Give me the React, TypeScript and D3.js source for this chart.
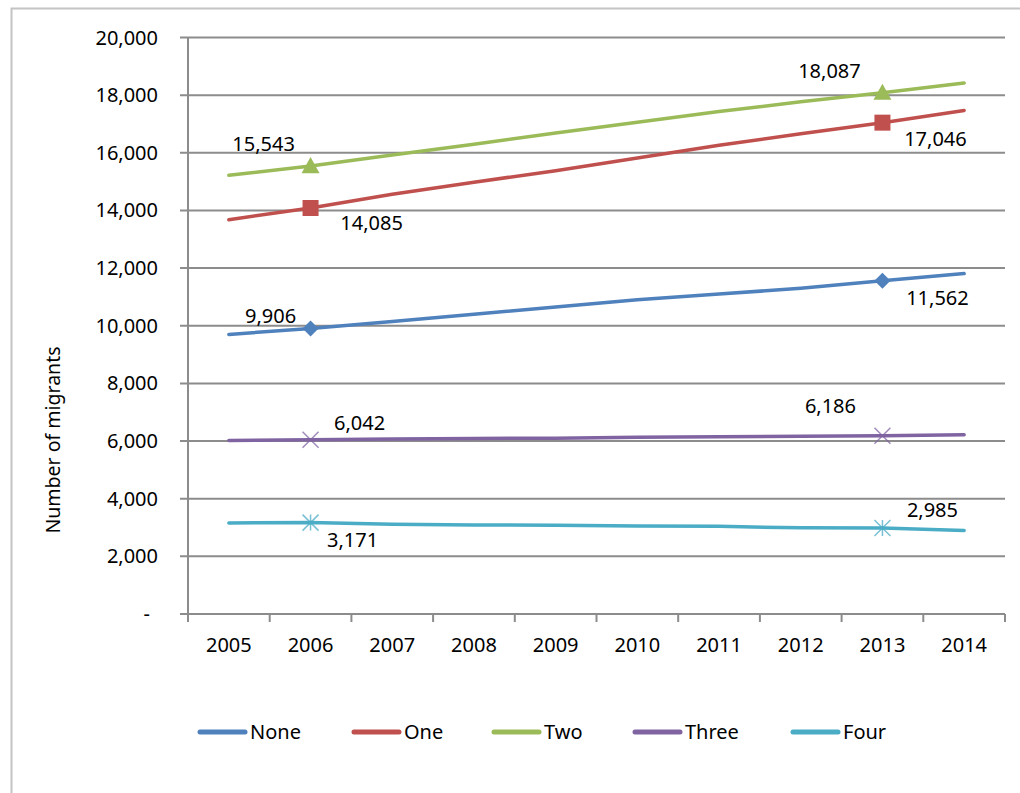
import React from 'react';
import * as d3 from 'd3';

// Years on the category axis
const years = ['2005', '2006', '2007', '2008', '2009', '2010', '2011', '2012', '2013', '2014'];

// Series values (migrants)
const none = [9700, 9906, 10150, 10400, 10650, 10900, 11100, 11300, 11562, 11810];
const one = [13680, 14085, 14560, 14980, 15380, 15820, 16260, 16660, 17046, 17470];
const two = [15220, 15543, 15920, 16300, 16690, 17060, 17430, 17770, 18087, 18420];
const three = [6020, 6042, 6070, 6090, 6100, 6130, 6150, 6165, 6186, 6220];
const four = [3160, 3171, 3110, 3090, 3080, 3050, 3040, 2990, 2985, 2900];

const yTicks = [0, 2000, 4000, 6000, 8000, 10000, 12000, 14000, 16000, 18000, 20000];
const labelledYears = ['2006', '2013'];

const series = [
  { name: 'None', values: none, color: '#4F81BD', marker: 'diamond', labelPos: [[-40, -12], [55, 17]] },
  { name: 'One', values: one, color: '#C0504D', marker: 'square', labelPos: [[61, 15], [53, 16]] },
  { name: 'Two', values: two, color: '#9BBB59', marker: 'triangle', labelPos: [[-47, -22], [-53, -22]] },
  { name: 'Three', values: three, color: '#8064A2', marker: 'x', labelPos: [[49, -17], [-52, -30]] },
  { name: 'Four', values: four, color: '#4BACC6', marker: 'star', labelPos: [[42, 17], [50, -18]] },
];

const legendX = [198, 352, 492, 633, 791];

const FONT = '"Noto Sans", "Open Sans", sans-serif';

function Marker({ type, x, y, color }: { type: string; x: number; y: number; color: string }) {
  if (type === 'diamond') {
    const r = 8;
    return <path d={`M${x},${y - r}L${x + r},${y}L${x},${y + r}L${x - r},${y}Z`} fill={color} />;
  }
  if (type === 'square') {
    const s = 16;
    return <rect x={x - s / 2} y={y - s / 2} width={s} height={s} fill={color} />;
  }
  if (type === 'triangle') {
    const r = 9;
    return <path d={`M${x},${y - r}L${x + r},${y + r * 0.8}L${x - r},${y + r * 0.8}Z`} fill={color} />;
  }
  if (type === 'x') {
    const r = 8;
    return (
      <path d={`M${x - r},${y - r}L${x + r},${y + r}M${x + r},${y - r}L${x - r},${y + r}`}
        stroke={color} strokeWidth={1.5} strokeOpacity={0.75} fill="none" />
    );
  }
  const r = 8;
  return (
    <path d={`M${x - r},${y - r}L${x + r},${y + r}M${x + r},${y - r}L${x - r},${y + r}M${x},${y - r}L${x},${y + r}`}
      stroke={color} strokeWidth={1.5} strokeOpacity={0.75} fill="none" />
  );
}

export default function App() {
  const width = 1020;
  const height = 793;
  const plot = { left: 188, right: 1005, top: 37.5, bottom: 614 };

  const x = d3.scaleBand<string>().domain(years).range([plot.left, plot.right]).padding(0);
  const cx = (yr: string) => (x(yr) as number) + x.bandwidth() / 2;
  const y = d3.scaleLinear().domain([0, 20000]).range([plot.bottom, plot.top]);

  const line = d3.line<number>()
    .x((_, i) => cx(years[i]))
    .y(d => y(d))
    .curve(d3.curveLinear);

  const fmt = d3.format(',');
  const grid = '#8c8c8c';

  return (
    <svg width={width} height={height} style={{ position: 'absolute', left: 0, top: 0, background: '#fff' }}
      fontFamily={FONT}>
      <rect x={0} y={0} width={width} height={height} fill="#fff" />
      <rect x={11.5} y={8.5} width={width} height={height} fill="none" stroke="#c4c4c4" strokeWidth={2} />

      {/* gridlines + y ticks */}
      {yTicks.map(t => (
        <g key={t}>
          <line x1={180} x2={plot.right} y1={y(t)} y2={y(t)} stroke={grid} strokeWidth={2} />
          <text x={t === 0 ? 150 : 158} y={y(t)} dy="0.35em" textAnchor="end" fontSize={20} fill="#000">
            {t === 0 ? '-' : fmt(t)}
          </text>
        </g>
      ))}

      {/* axes */}
      <line x1={plot.left} x2={plot.left} y1={plot.top} y2={plot.bottom + 1} stroke={grid} strokeWidth={2} />
      {years.concat(['end']).map((yr, i) => {
        const xx = plot.left + i * x.bandwidth();
        return <line key={yr} x1={xx} x2={xx} y1={plot.bottom} y2={plot.bottom + 8} stroke={grid} strokeWidth={2} />;
      })}
      {years.map(yr => (
        <text key={yr} x={cx(yr)} y={645} dy="0.35em" textAnchor="middle" fontSize={20} fill="#000">{yr}</text>
      ))}

      <text transform={`translate(53,440) rotate(-90)`} textAnchor="middle" dy="0.35em" fontSize={19.5} fill="#000">
        Number of migrants
      </text>

      {/* series */}
      {series.map(s => (
        <path key={s.name} d={line(s.values) || ''} fill="none" stroke={s.color} strokeWidth={3.5}
          strokeLinecap="round" strokeLinejoin="round" />
      ))}
      {series.map(s => labelledYears.map((yr, k) => {
        const i = years.indexOf(yr);
        const px = cx(yr);
        const py = y(s.values[i]);
        const [dx, dy] = s.labelPos[k];
        return (
          <g key={s.name + yr}>
            <Marker type={s.marker} x={px} y={py} color={s.color} />
            <text x={px + dx} y={py + dy} dy="0.35em" textAnchor="middle" fontSize={20} fill="#000">
              {fmt(s.values[i])}
            </text>
          </g>
        );
      }))}

      {/* legend */}
      {series.map((s, i) => (
        <g key={s.name} transform={`translate(${legendX[i]},732)`}>
          <line x1={2} x2={47} y1={0} y2={0} stroke={s.color} strokeWidth={5} strokeLinecap="round" />
          <text x={52} y={0} dy="0.35em" fontSize={20} fill="#000">{s.name}</text>
        </g>
      ))}
    </svg>
  );
}
